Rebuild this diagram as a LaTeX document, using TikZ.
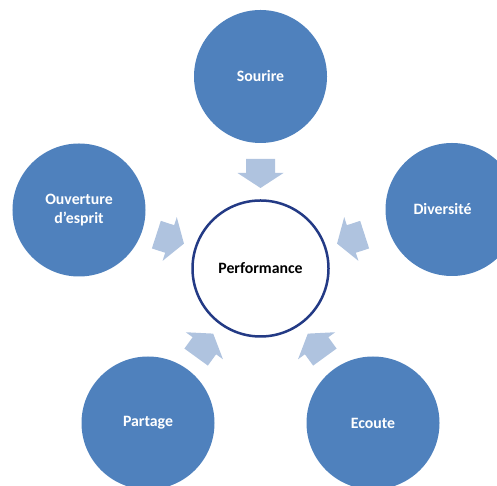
\documentclass[tikz,border=0pt]{standalone}
\usepackage{fontspec}
\setmainfont{Carlito}
\usetikzlibrary{calc}
\definecolor{outerblue}{HTML}{4F81BD}
\definecolor{arrowblue}{HTML}{AFC3DF}
\definecolor{navy}{HTML}{233A85}
\tikzset{
  outertext/.style={text=white, font=\fontsize{15.8bp}{19bp}\selectfont\bfseries, align=center},
  outer/.style={circle, fill=outerblue, minimum size=133bp, inner sep=0pt, outertext},
  central/.style={circle, draw=navy, line width=2.5bp, fill=white, minimum size=136bp,
    inner sep=0pt, font=\fontsize{15.8bp}{19bp}\selectfont\bfseries},
  blockarrow/.pic={\fill[arrowblue] (0,-14.5) -- (14,-14.5) -- (14,-23) -- (29,0)
    -- (14,23) -- (14,14.5) -- (0,14.5) -- cycle;}
}
\begin{document}
\begin{tikzpicture}[x=1bp,y=1bp]
\useasboundingbox (0,0) rectangle (497,486);
\clip (0,0) rectangle (497,486);
\node[central] (perf) at (260.5,217.5) {Performance};
\node[outer] (sourire) at (260.5,409.5) {Sourire};
\node[outer] (div) at (452,276.5) {};
\node[outertext] (divlabel) at ($(div)+(-9.5,0)$) {Diversité};
\node[outer] (ouv) at (79,276) {Ouverture\\d’esprit};
\node[outer] (part) at (148,63) {Partage};
\node[outer] (ecoute) at (373,63) {Ecoute};
\foreach \a/\n in {90/a1,18/a2,162/a3,-54/a4,-126/a5}{
  \coordinate (\n) at ($(perf)+(\a:109.5)$);
  \pic[rotate=\a+180] at (\n) {blockarrow};
}
\end{tikzpicture}
\end{document}
